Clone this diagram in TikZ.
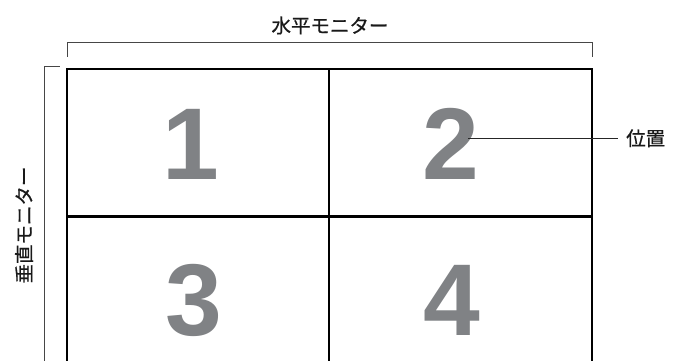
\documentclass[tikz,border=0pt]{standalone}
\usepackage{fontspec}
\newfontfamily\jpfont{Noto Sans CJK JP}[FakeBold=0.6]
\newfontfamily\digitfont{Liberation Sans}[BoldFont={Liberation Sans Bold}]
\definecolor{digitgray}{RGB}{128,130,133}
\definecolor{bracketgray}{RGB}{70,70,70}
\begin{document}
\begin{tikzpicture}[x=1pt,y=-1pt,
  gridline/.style={line width=2.1pt,black},
  bracketline/.style={line width=1.4pt,bracketgray},
  leader/.style={line width=1.3pt,black!85},
  digit/.style={inner sep=0pt,anchor=base,text=digitgray,font=\digitfont\bfseries\fontsize{102}{102}\selectfont},
  jplabel/.style={inner sep=0pt,font=\jpfont\fontsize{19.5}{20}\selectfont,text=black!90}]
\useasboundingbox (0,0) rectangle (683,360);
% grid
\coordinate (gtl) at (67,69);
\coordinate (gtr) at (592,69);
\coordinate (gbl) at (67,375);
\coordinate (gbr) at (592,375);
\coordinate (gml) at (67,216.5);
\coordinate (gmr) at (592,216.5);
\coordinate (gmt) at (329.3,69);
\coordinate (gmb) at (329.3,375);
\draw[gridline] (gbl) -- (gtl) -- (gtr) -- (gbr);
\draw[gridline] (gml) -- (gmr);
\draw[gridline] (gmt) -- (gmb);
% digits
\node[digit] (one) at (191,179.5) {1};
\node[digit] (two) at (450.5,179.5) {2};
\node[digit] (three) at (194,335) {3};
\node[digit] (four) at (451.5,335) {4};
% top bracket
\coordinate (tbl) at (67.7,56.5);
\coordinate (tbr) at (592.3,56.5);
\draw[bracketline] (tbl) -- (67.7,42.3) -- (592.3,42.3) -- (tbr);
\node[jplabel] (hmon) at (330,25.5) {水平モニター};
% left bracket
\coordinate (lbt) at (59.5,66.7);
\coordinate (lbb) at (44.7,375);
\draw[bracketline] (lbt) -- (44.7,66.7) -- (lbb);
\node[jplabel,rotate=90] (vmon) at (24,225) {垂直モニター};
% position label
\node[jplabel,anchor=west] (pos) at (626,138.3) {位置};
\coordinate (twopt) at (468,138.3);
\draw[leader] (twopt) -- (pos.west -| 618,0);
\end{tikzpicture}
\end{document}
